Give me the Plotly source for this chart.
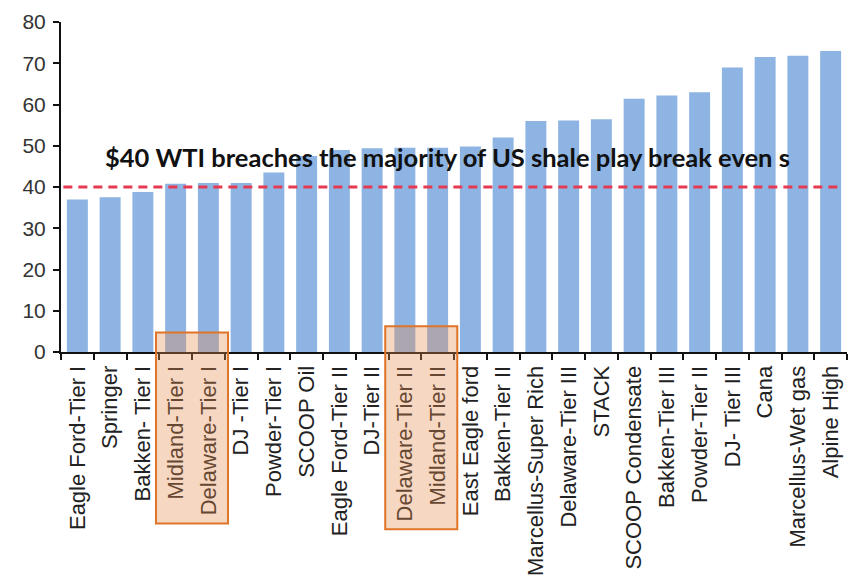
import plotly.graph_objects as go

# Breakeven WTI price ($/bbl) by US shale play
plays = [
    "Eagle Ford-Tier I", "Springer", "Bakken- Tier I", "Midland-Tier I",
    "Delaware-Tier I", "DJ -Tier I", "Powder-Tier I", "SCOOP Oil",
    "Eagle Ford-Tier II", "DJ-Tier II", "Delaware-Tier II", "Midland-Tier II",
    "East Eagle ford", "Bakken-Tier II", "Marcellus-Super Rich",
    "Delaware-Tier III", "STACK", "SCOOP Condensate", "Bakken-Tier III",
    "Powder-Tier II", "DJ- Tier III", "Cana", "Marcellus-Wet gas", "Alpine High",
]
breakeven = [
    37.0, 37.5, 38.8, 40.8,
    41.0, 41.0, 43.5, 47.5,
    49.0, 49.4, 49.5, 49.5,
    49.8, 52.0, 56.0,
    56.1, 56.4, 61.4, 62.2,
    63.0, 69.0, 71.5, 71.8, 73.0,
]
wti_price = 40
y_ticks = [0, 10, 20, 30, 40, 50, 60, 70, 80]

# Permian plays highlighted with boxes (index ranges into plays)
highlight_groups = [(3, 4), (10, 11)]

headline = "$40 WTI breaches the majority of US shale play break even s"

fig = go.Figure()
fig.add_trace(go.Bar(
    x=plays,
    y=breakeven,
    marker=dict(color="#8db4e2", line=dict(width=0)),
    showlegend=False,
))

# $40 WTI reference line
fig.add_shape(
    type="line", xref="paper", yref="y",
    x0=0.003, x1=0.989, y0=wti_price, y1=wti_price,
    line=dict(color="#e53a52", width=3, dash="9px,6px"),
    layer="above",
)

# Highlight boxes spanning bars and their labels
box_tops = [0.059, 0.078]
box_bottoms = [-0.52, -0.537]
for (i0, i1), top, bottom in zip(highlight_groups, box_tops, box_bottoms):
    fig.add_shape(
        type="rect", xref="x", yref="paper",
        x0=i0 - 0.6, x1=i1 + 0.6, y0=bottom, y1=top,
        fillcolor="rgba(228,140,80,0.35)",
        line=dict(color="#e07428", width=2),
        layer="above",
    )

fig.add_annotation(
    text=headline,
    xref="paper", yref="paper", x=0.054, y=0.59,
    xanchor="left", yanchor="middle", showarrow=False,
    font=dict(family="Lato", size=25.5, color="#111", weight="bold"),
)

fig.update_layout(
    width=857, height=586,
    margin=dict(l=61, r=10, t=20, b=233),
    paper_bgcolor="white", plot_bgcolor="white",
    bargap=0.36,
    font=dict(family="Liberation Sans, Arial", color="#222"),
)
fig.update_xaxes(
    type="category",
    showline=True, linecolor="#111", linewidth=2,
    ticks="outside", tickson="boundaries", ticklen=6, tickcolor="#111", tickwidth=1.5,
    tickangle=-90, tickfont=dict(size=22, color="#222"),
    ticklabelstandoff=3,
    showgrid=False, zeroline=False,
)
fig.update_yaxes(
    range=[0, 80], tickvals=y_ticks,
    showline=True, linecolor="#111", linewidth=2,
    ticks="outside", ticklen=6, tickcolor="#111", tickwidth=1.5,
    tickfont=dict(size=21, color="#333"),
    ticklabelstandoff=3,
    showgrid=False, zeroline=False,
)

fig.write_html("out.html")
